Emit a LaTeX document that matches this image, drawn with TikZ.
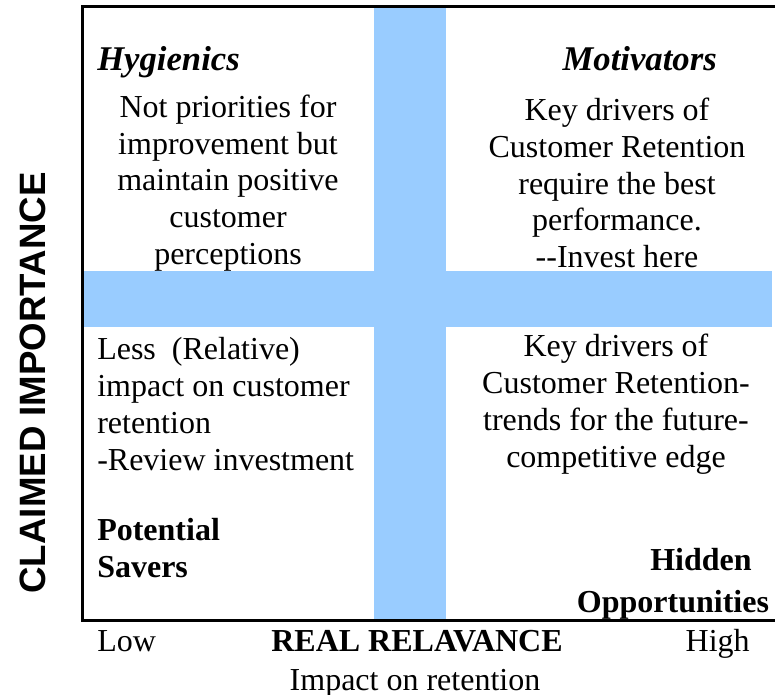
\documentclass[tikz,border=0pt]{standalone}
\usepackage{fontspec}
\setmainfont{Liberation Serif}
\setsansfont{Liberation Sans}
\usepackage{xcolor}
\definecolor{bandblue}{RGB}{153,204,255}

\begin{document}
\begin{tikzpicture}[x=0.75pt, y=-0.75pt,
    band/.style={fill=bandblue, draw=none},
    frame/.style={line width=2.25pt},
    quadtitle/.style={inner sep=0pt, font=\fontsize{26}{30}\selectfont\bfseries\itshape},
    quadtext/.style={inner sep=0pt, align=center, font=\fontsize{24}{27.6}\selectfont},
    boldtext/.style={inner sep=0pt, font=\fontsize{24}{27.6}\selectfont\bfseries},
    axistext/.style={inner sep=0pt, font=\fontsize{24}{27.6}\selectfont}]
      \useasboundingbox (0,0) rectangle (775,695);

      % the cross
      \fill[band] (374,7) rectangle (446,620);
      \fill[band] (82,271) rectangle (772,327);
      \draw[frame] (775,7) -- (82,7) -- (82,620) -- (775,620);

      % upper quadrants
      \node[quadtitle, anchor=base west] (hyg) at (97,71) {Hygienics};
      \node[quadtitle, anchor=base east] (mot) at (717,71) {Motivators};
      \node[quadtext] (hygtext) at (228,183) {Not priorities for\\improvement but\\maintain positive\\customer\\perceptions};
      \node[quadtext] (mottext) at (617,183) {Key drivers of\\Customer Retention\\require the best\\performance.\\{-}{-}Invest here};

      % lower quadrants
      \node[quadtext, align=left, anchor=west] (savtext) at (97,404) {Less\ \ (Relative)\\impact on customer\\retention\\-Review investment};
      \node[quadtext] (hidtext) at (616,404) {Key drivers of\\Customer Retention-\\trends for the future-\\competitive edge};
      \node[boldtext, align=left, anchor=west] (sav) at (97,548) {Potential\\Savers};
      \node[boldtext, anchor=base] (hid) at (701,570) {Hidden};
      \node[boldtext, anchor=base] (opp) at (673,612) {Opportunities};

      % axes
      \node[axistext, anchor=base west] (low) at (97,651) {Low};
      \node[boldtext, anchor=base] (real) at (417,651) {REAL RELAVANCE};
      \node[axistext, anchor=base east] (high) at (750,651) {High};
      \node[axistext, anchor=base] (impact) at (415,690) {Impact on retention};
      \node[inner sep=0pt, rotate=90, font=\fontsize{27.5}{30}\selectfont\sffamily\bfseries] (claimed) at (33,383) {CLAIMED IMPORTANCE};
    \end{tikzpicture}
\end{document}
